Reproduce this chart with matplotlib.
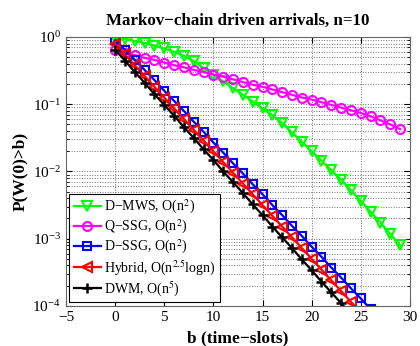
import numpy as np
import matplotlib
matplotlib.use("Agg")
import matplotlib.pyplot as plt
from matplotlib.ticker import LogLocator, NullFormatter

plt.rcParams['font.family'] = ['Liberation Serif', 'DejaVu Serif']
plt.rcParams['mathtext.fontset'] = 'stix'

# time-slots b
b = list(range(30))

# log10 P(W(0)>b)
dmws_log = [-0.01, -0.03, -0.06, -0.09, -0.13, -0.17, -0.22, -0.28, -0.36, -0.46,
            -0.56, -0.66, -0.76, -0.86, -0.96, -1.06, -1.16, -1.28, -1.42, -1.56,
            -1.70, -1.84, -1.98, -2.12, -2.28, -2.44, -2.60, -2.76, -2.93, -3.10]
qssg_log = [-0.20, -0.24, -0.27, -0.31, -0.34, -0.38, -0.42, -0.45, -0.49, -0.52,
            -0.56, -0.59, -0.63, -0.67, -0.71, -0.74, -0.78, -0.82, -0.86, -0.90,
            -0.93, -0.97, -1.01, -1.05, -1.09, -1.13, -1.18, -1.24, -1.30, -1.37]
dssg_log = [-0.05, -0.19, -0.34, -0.49, -0.64, -0.80, -0.95, -1.10, -1.26, -1.41,
            -1.57, -1.72, -1.88, -2.03, -2.19, -2.34, -2.50, -2.65, -2.81, -2.96,
            -3.12, -3.27, -3.43, -3.58, -3.74, -3.89, -4.05, -4.20]
hyb_log = [-0.10, -0.26, -0.42, -0.58, -0.74, -0.90, -1.06, -1.22, -1.38, -1.54,
           -1.70, -1.86, -2.02, -2.18, -2.34, -2.50, -2.66, -2.82, -2.98, -3.14,
           -3.30, -3.46, -3.62, -3.78, -3.94, -4.10]
dwm_log = [-0.19, -0.35, -0.52, -0.68, -0.85, -1.01, -1.17, -1.34, -1.50, -1.67,
           -1.83, -2.00, -2.16, -2.32, -2.49, -2.65, -2.82, -2.98, -3.14, -3.31,
           -3.47, -3.64, -3.80, -3.96, -4.13]

labels = [r"D−MWS, O(n$^{2}$)", r"Q−SSG, O(n$^{2}$)", r"D−SSG, O(n$^{2}$)",
          r"Hybrid, O(n$^{2.5}$logn)", r"DWM, O(n$^{5}$)"]

fig = plt.figure(figsize=(4.2, 3.46), dpi=100)
ax = fig.add_axes([0.157, 0.116, 0.819, 0.777])

def p(v):
    return 10.0 ** np.array(v)

ax.semilogy(b, p(dmws_log), '-v', color=(0, 1, 0), lw=1.6, ms=6.5,
            mfc='none', mew=1.5, label=labels[0])
ax.semilogy(b, p(qssg_log), '-o', color=(1, 0, 1), lw=1.6, ms=6.5,
            mfc='none', mew=1.5, label=labels[1])
ax.semilogy(b[:len(dssg_log)], p(dssg_log), '-s', color=(0, 0, 1), lw=1.6, ms=5.5,
            mfc='none', mew=1.5, label=labels[2])
ax.semilogy(b[:len(hyb_log)], p(hyb_log), '-<', color=(1, 0, 0), lw=1.6, ms=6.5,
            mfc='none', mew=1.5, label=labels[3])
ax.semilogy(b[:len(dwm_log)], p(dwm_log), '-+', color='k', lw=1.6, ms=7,
            mew=1.8, label=labels[4])

ax.set_xlim(-5, 30)
ax.set_ylim(1e-4, 1)
ax.set_xticks(range(-5, 31, 5))
ax.set_xticklabels([str(t).replace('-', '−') for t in range(-5, 31, 5)])
ax.yaxis.set_major_locator(LogLocator(base=10, numticks=10))
ax.yaxis.set_minor_locator(LogLocator(base=10, subs=np.arange(2, 10), numticks=10))
ax.yaxis.set_minor_formatter(NullFormatter())

ax.grid(True, which='major', linestyle=':', color='0.45', lw=0.7)
ax.grid(True, which='minor', axis='y', linestyle=':', color='0.45', lw=0.7)
ax.tick_params(which='both', direction='in', top=True, right=True, labelsize=11)
ax.tick_params(which='major', length=4)
ax.tick_params(which='minor', length=2)
for s in ax.spines.values():
    s.set_color('0.4')
    s.set_linewidth(0.8)

ax.set_title("Markov−chain driven arrivals, n=10", fontsize=12.2, fontweight='bold', pad=9)
ax.set_xlabel("b (time−slots)", fontsize=12.5, fontweight='bold', labelpad=5)
ax.set_ylabel("P(W(0)>b)", fontsize=12.5, fontweight='bold', labelpad=3)

leg = ax.legend(loc='lower left', fontsize=10, fancybox=False, framealpha=1,
                edgecolor='k', borderaxespad=0.25, handlelength=2.0,
                handletextpad=0.2, labelspacing=0.15, borderpad=0.3)
leg.get_frame().set_linewidth(0.8)

fig.savefig("out.png", dpi=100)
